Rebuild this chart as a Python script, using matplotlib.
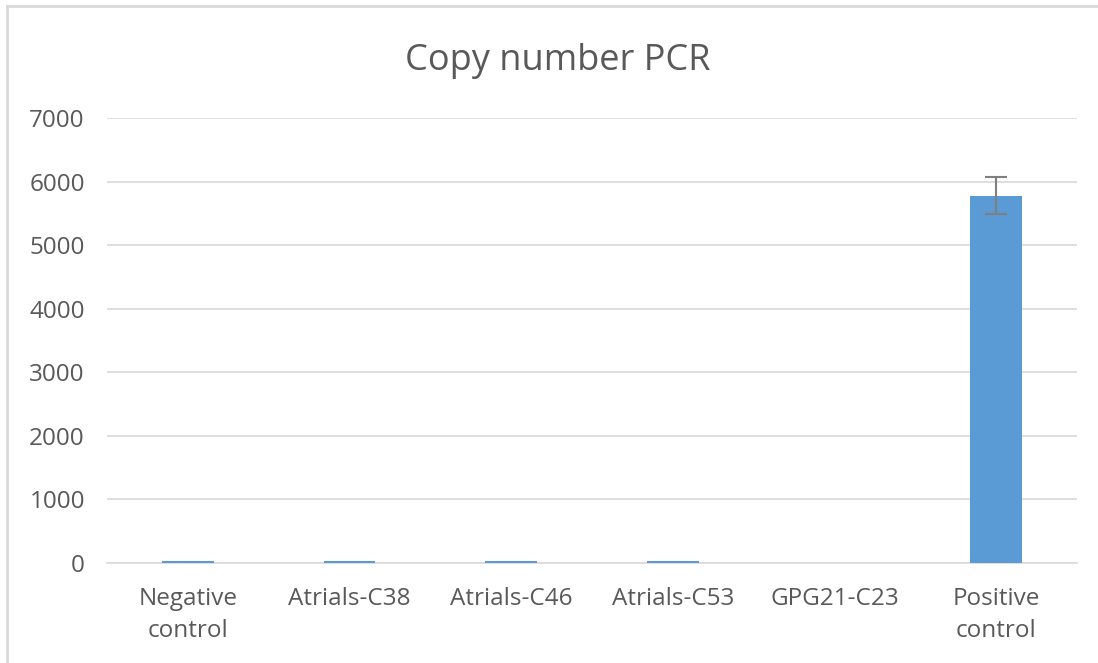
import matplotlib
matplotlib.use("Agg")
import matplotlib.pyplot as plt
from matplotlib.lines import Line2D
import numpy as np

categories = ["Negative\ncontrol", "Atrials-C38", "Atrials-C46", "Atrials-C53",
              "GPG21-C23", "Positive\ncontrol"]
copies = [30, 30, 30, 30, 0, 5780]
errors = [0, 0, 0, 0, 0, 290]
yticks = [0, 1000, 2000, 3000, 4000, 5000, 6000, 7000]

plt.rcParams['font.family'] = ['Open Sans', 'DejaVu Sans']
text_color = '#595959'

fig = plt.figure(figsize=(10.98, 6.63), dpi=100)
ax = fig.add_axes([0.0975, 0.1508, 0.8835, 0.6712])

x = np.arange(len(categories))
ax.bar(x, copies, width=0.32, color='#5b9bd5', zorder=3)
ax.errorbar(x[-1], copies[-1], yerr=errors[-1], fmt='none', ecolor='#7f7f7f',
            elinewidth=1.5, capsize=8, capthick=1.5, zorder=4)

ax.set_xlim(-0.5, len(categories) - 0.5)
ax.set_ylim(0, 7000)
ax.set_yticks(yticks)
ax.set_xticks(x)
ax.set_xticklabels(categories, fontsize=17.5, color=text_color, linespacing=1.45)
ax.tick_params(axis='y', labelsize=17.5, labelcolor=text_color, length=0, pad=16)
ax.tick_params(axis='x', length=0, pad=17)
ax.grid(axis='y', color='#d9d9d9', linewidth=1.2, zorder=0)
for s in ['top', 'right', 'left']:
    ax.spines[s].set_visible(False)
ax.spines['bottom'].set_color('#d9d9d9')
ax.spines['bottom'].set_linewidth(1.2)

fig.text(0.508, 0.908, "Copy number PCR", fontsize=26, color=text_color,
         ha='center', va='center')

# outer chart frame (left and top edges visible in the screenshot)
fig.add_artist(Line2D([0.0065, 0.0065], [0, 0.991], transform=fig.transFigure,
                      color='#d9d9d9', linewidth=2))
fig.add_artist(Line2D([0.0065, 1], [0.991, 0.991], transform=fig.transFigure,
                      color='#d9d9d9', linewidth=2))

fig.savefig("out.png", dpi=100)
